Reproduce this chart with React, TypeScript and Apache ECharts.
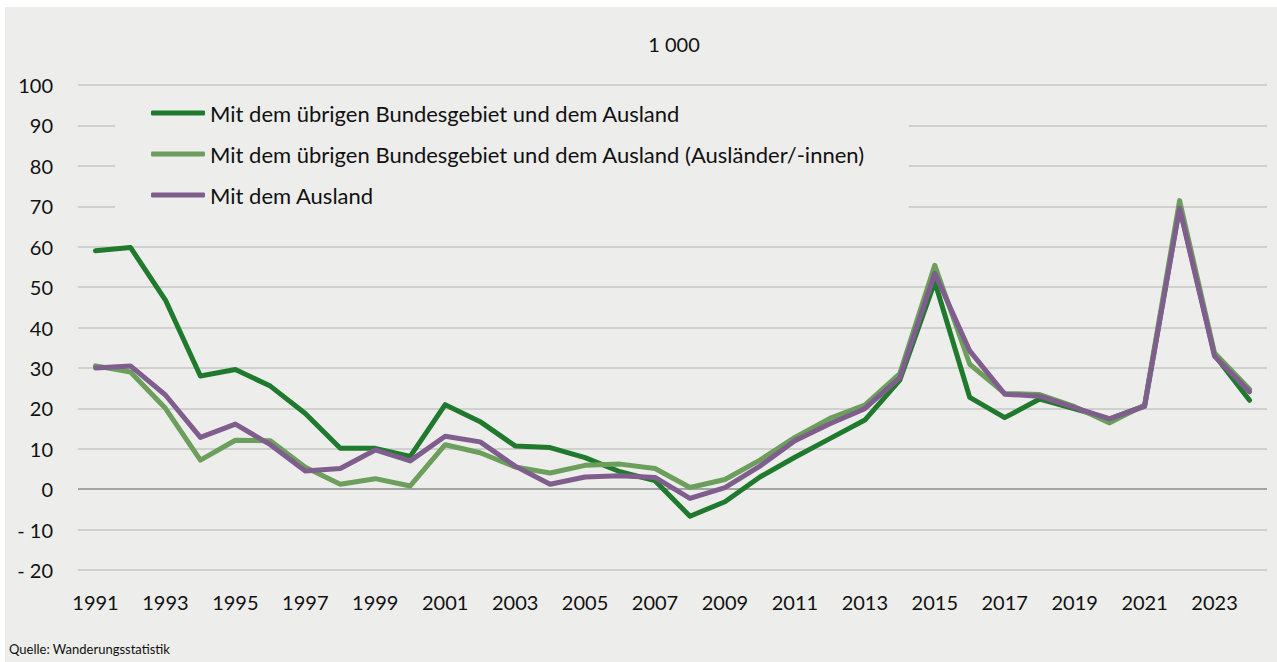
import React, { useEffect, useRef } from "react";
import * as echarts from "echarts";

const years: string[] = [
  "1991","1992","1993","1994","1995","1996","1997","1998","1999","2000",
  "2001","2002","2003","2004","2005","2006","2007","2008","2009","2010",
  "2011","2012","2013","2014","2015","2016","2017","2018","2019","2020",
  "2021","2022","2023","2024",
];

const totalValues: number[] = [
  59.0, 59.8, 46.8, 28.0, 29.6, 25.5, 18.7, 10.1, 10.1, 8.1,
  20.9, 16.7, 10.7, 10.3, 7.8, 4.3, 2.1, -6.7, -3.1, 3.0,
  7.9, 12.5, 17.1, 27.0, 51.3, 22.7, 17.7, 22.3, 19.9, 17.4,
  20.6, 69.9, 33.2, 22.0,
];

const foreignersValues: number[] = [
  30.5, 29.0, 20.0, 7.2, 12.1, 12.0, 5.4, 1.2, 2.6, 0.8,
  11.0, 9.0, 5.5, 4.0, 5.9, 6.2, 5.1, 0.4, 2.4, 7.2,
  12.8, 17.5, 20.8, 28.6, 55.4, 30.9, 23.7, 23.4, 20.4, 16.4,
  20.8, 71.4, 33.7, 24.7,
];

const abroadValues: number[] = [
  30.0, 30.5, 23.3, 12.8, 16.1, 11.0, 4.5, 5.1, 9.7, 7.0,
  13.1, 11.7, 5.7, 1.2, 3.0, 3.3, 2.9, -2.3, 0.4, 5.7,
  12.0, 16.2, 19.9, 27.6, 53.4, 34.2, 23.5, 23.0, 20.2, 17.4,
  20.5, 69.5, 32.9, 24.1,
];

const seriesNames: string[] = [
  "Mit dem übrigen Bundesgebiet und dem Ausland",
  "Mit dem übrigen Bundesgebiet und dem Ausland (Ausländer/-innen)",
  "Mit dem Ausland",
];

const seriesColors: string[] = ["#1f7a2d", "#6c9e5c", "#7f5e8e"];

const unitLabel = "1 000";
const sourceLabel = "Quelle: Wanderungsstatistik";

const FONT = "Lato, 'Liberation Sans', sans-serif";

export default function App() {
  const ref = useRef<HTMLDivElement>(null);

  useEffect(() => {
    document.body.style.margin = "0";
    if (!ref.current) return;
    const chart = echarts.init(ref.current, null, { renderer: "svg" });
    const allSeries = [totalValues, foreignersValues, abroadValues];

    const splitColors: string[] = [];
    for (let v = -20; v <= 100; v += 10) splitColors.push(v === 0 ? "#8a8a8a" : "#c6c6c6");

    chart.setOption({
      animation: false,
      backgroundColor: "#ededeb",
      textStyle: { fontFamily: FONT },
      graphic: [
        { type: "rect", shape: { x: 0, y: 0, width: 1277, height: 7 }, style: { fill: "#ffffff" }, silent: true },
        { type: "rect", shape: { x: 0, y: 0, width: 5, height: 662 }, style: { fill: "#ffffff" }, silent: true },
        {
          type: "text",
          x: 674,
          y: 44,
          style: {
            text: unitLabel,
            font: `20px ${FONT}`,
            fill: "#111111",
            textAlign: "center",
            textVerticalAlign: "middle",
          },
        },
        {
          type: "text",
          x: 9,
          y: 649,
          style: {
            text: sourceLabel,
            font: `13px ${FONT}`,
            fill: "#111111",
            textAlign: "left",
            textVerticalAlign: "middle",
          },
        },
      ],
      legend: {
        orient: "vertical",
        left: 115,
        top: 94,
        padding: [8, 44, 15, 36],
        backgroundColor: "#ededeb",
        icon: "roundRect",
        itemWidth: 54,
        itemHeight: 5,
        itemGap: 19,
        z: 5,
        textStyle: { fontFamily: FONT, fontSize: 22, color: "#111111", lineHeight: 22 },
        data: seriesNames,
      },
      grid: { left: 78, right: 10, top: 85, bottom: 92, containLabel: false },
      xAxis: {
        type: "category",
        data: years,
        boundaryGap: true,
        axisLine: { show: false },
        axisTick: { show: false },
        axisLabel: {
          interval: 1,
          margin: 22,
          fontFamily: FONT,
          fontSize: 20,
          color: "#111111",
        },
        splitLine: { show: false },
      },
      yAxis: {
        type: "value",
        min: -20,
        max: 100,
        interval: 10,
        axisLine: { show: false },
        axisTick: { show: false },
        axisLabel: {
          margin: 25,
          fontFamily: FONT,
          fontSize: 20,
          color: "#111111",
          formatter: (v: number) => (v < 0 ? "- " + Math.abs(v) : String(v)),
        },
        splitLine: { show: true, lineStyle: { color: splitColors, width: 1.5 } },
      },
      series: allSeries.map((vals, i) => ({
        name: seriesNames[i],
        type: "line",
        data: vals,
        symbol: "none",
        showSymbol: false,
        color: seriesColors[i],
        itemStyle: { color: seriesColors[i] },
        lineStyle: { color: seriesColors[i], width: 5, cap: "round", join: "round" },
        z: 2 + i,
      })),
    });

    return () => chart.dispose();
  }, []);

  return <div ref={ref} style={{ width: 1277, height: 662 }} />;
}
